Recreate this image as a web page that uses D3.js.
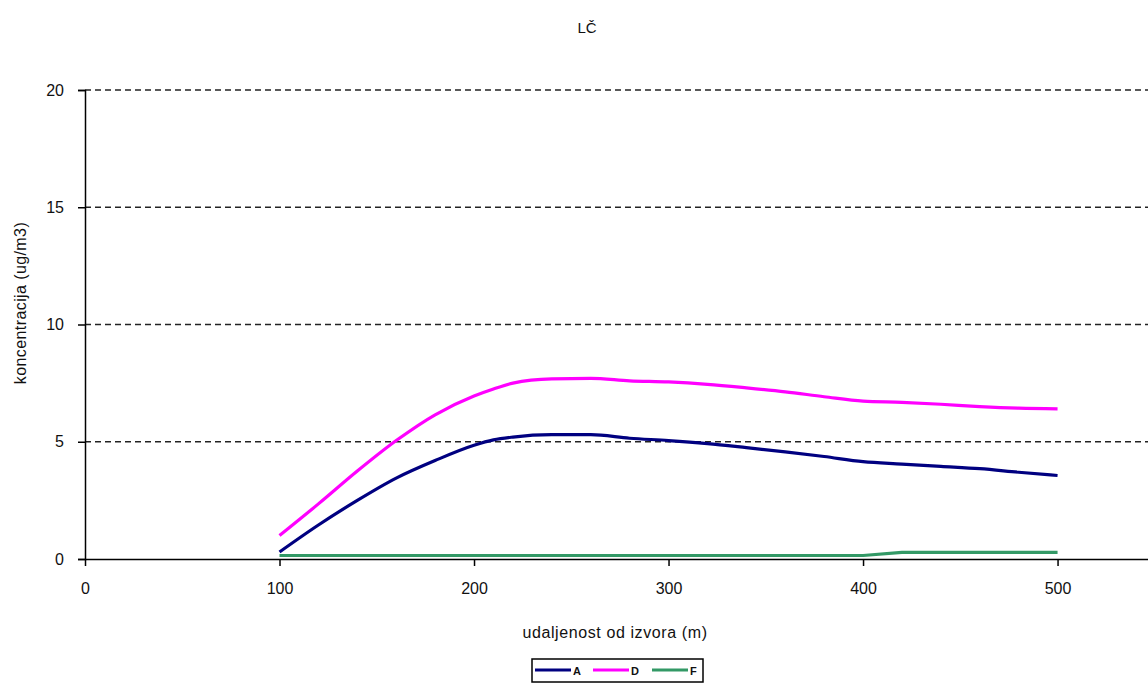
<!DOCTYPE html>
<html>
<head>
<meta charset="utf-8">
<script src="https://cdn.jsdelivr.net/npm/d3@7"></script>
<style>
  html, body { margin: 0; padding: 0; background: #fff; }
  svg { display: block; }
  text { font-family: "Liberation Sans", Arial, sans-serif; fill: #111; }
</style>
</head>
<body>
<svg id="chart" width="1148" height="684"></svg>
<script>
// ---- data ----
const title = "LČ";
const xLabel = "udaljenost od izvora (m)";
const yLabel = "koncentracija (ug/m3)";
const xTicks = [0, 100, 200, 300, 400, 500];
const yTicks = [0, 5, 10, 15, 20];
const distances = [100, 120, 140, 160, 180, 200, 210, 220, 240, 260, 280, 300, 320, 340, 360, 380, 400, 420, 440, 460, 480, 500];
const seriesA = [0.3, 1.45, 2.5, 3.45, 4.2, 4.85, 5.08, 5.2, 5.3, 5.3, 5.15, 5.05, 4.92, 4.75, 4.57, 4.37, 4.15, 4.05, 3.95, 3.85, 3.7, 3.56];
const seriesD = [1.0, 2.35, 3.75, 5.05, 6.15, 6.95, 7.25, 7.5, 7.68, 7.7, 7.6, 7.55, 7.45, 7.3, 7.13, 6.92, 6.73, 6.68, 6.6, 6.5, 6.43, 6.4];
const seriesF = [0.15, 0.15, 0.15, 0.15, 0.15, 0.15, 0.15, 0.15, 0.15, 0.15, 0.15, 0.15, 0.15, 0.15, 0.15, 0.15, 0.15, 0.28, 0.28, 0.28, 0.28, 0.28];
const seriesNames = ["A", "D", "F"];
const seriesColors = ["#000080", "#ff00ff", "#339966"];

// ---- drawing ----
const svg = d3.select("#chart");
const x = d3.scaleLinear().domain([0, 546.5]).range([85, 1148]);
const y = d3.scaleLinear().domain([0, 20]).range([559, 90]);

// title
svg.append("text").attr("x", 587).attr("y", 33).attr("text-anchor", "middle")
  .attr("font-size", 15).text(title);

// grid lines
svg.append("g").selectAll("line").data(yTicks.filter(d => d > 0)).join("line")
  .attr("x1", 85).attr("x2", 1148)
  .attr("y1", d => y(d)).attr("y2", d => y(d))
  .attr("stroke", "#222").attr("stroke-width", 1.5).attr("stroke-dasharray", "6,4");

// y axis
const yAxis = svg.append("g").attr("transform", "translate(85,0)")
  .call(d3.axisLeft(y).tickValues(yTicks).tickSize(7).tickPadding(14).tickFormat(d3.format("d")));
yAxis.select(".domain").attr("stroke", "#000").attr("stroke-width", 1.5);
yAxis.selectAll(".tick line").attr("stroke", "#000").attr("stroke-width", 1.5);
yAxis.selectAll("text").attr("font-size", 16).attr("font-family", "Liberation Sans, Arial, sans-serif").attr("fill", "#111");

// x axis
const xAxis = svg.append("g").attr("transform", "translate(0,559)")
  .call(d3.axisBottom(x).tickValues(xTicks).tickSize(7).tickPadding(17).tickSizeOuter(0).tickFormat(d3.format("d")));
xAxis.select(".domain").attr("stroke", "#000").attr("stroke-width", 1.5);
xAxis.selectAll(".tick line").attr("stroke", "#000").attr("stroke-width", 1.5);
xAxis.selectAll("text").attr("font-size", 16).attr("font-family", "Liberation Sans, Arial, sans-serif").attr("fill", "#111");

// axis labels
svg.append("text").attr("x", 615).attr("y", 638).attr("text-anchor", "middle")
  .attr("font-size", 16).attr("letter-spacing", 0.6).text(xLabel);
svg.append("text").attr("transform", "translate(26,303) rotate(-90)").attr("text-anchor", "middle")
  .attr("font-size", 16).attr("letter-spacing", 0.4).text(yLabel);

// lines
const allSeries = [seriesA, seriesD, seriesF];
allSeries.forEach((vals, i) => {
  const line = d3.line().x(d => x(d[0])).y(d => y(d[1]))
    .curve(i === 2 ? d3.curveLinear : d3.curveMonotoneX);
  svg.append("path")
    .datum(distances.map((dd, j) => [dd, vals[j]]))
    .attr("fill", "none").attr("stroke", seriesColors[i]).attr("stroke-width", 3.2)
    .attr("stroke-linejoin", "round")
    .attr("d", line);
});

// legend
const lg = svg.append("g");
lg.append("rect").attr("x", 532).attr("y", 659).attr("width", 171).attr("height", 23)
  .attr("fill", "#fff").attr("stroke", "#000").attr("stroke-width", 1.5);
const legendX = [535, 593, 652];
seriesNames.forEach((n, i) => {
  lg.append("line").attr("x1", legendX[i]).attr("x2", legendX[i] + 36)
    .attr("y1", 670).attr("y2", 670).attr("stroke", seriesColors[i]).attr("stroke-width", 3);
  lg.append("text").attr("x", legendX[i] + 38).attr("y", 674.5).attr("font-size", 11)
    .attr("font-weight", "bold").text(n);
});
</script>
</body>
</html>
